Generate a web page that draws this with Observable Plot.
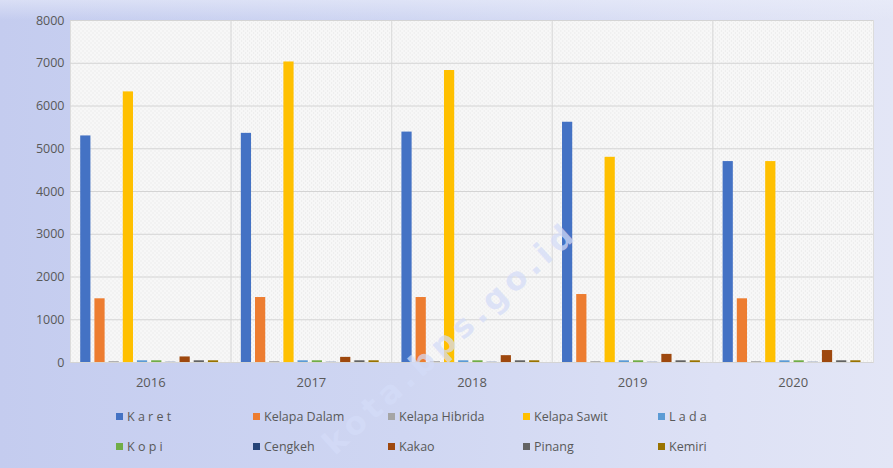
<!DOCTYPE html>
<html>
<head>
<meta charset="utf-8">
<script src="https://cdn.jsdelivr.net/npm/d3@7"></script>
<script src="https://cdn.jsdelivr.net/npm/@observablehq/plot@0.6"></script>
<style>
  html, body { margin: 0; padding: 0; }
  body {
    width: 893px; height: 468px; overflow: hidden; position: relative;
    background:
      linear-gradient(to bottom, rgba(235,238,250,0.55) 0px, rgba(235,238,250,0) 20px),
      linear-gradient(to right, #c4ccef 0%, #cfd6f2 45%, #dde1f5 80%, #e3e6f6 100%);
    font-family: "Open Sans", "DejaVu Sans", sans-serif;
  }
  #chart { position: absolute; left: 0; top: 0; }
  .legend { position: absolute; left: 0; top: 0; width: 893px; height: 468px; pointer-events: none; }
  .item { position: absolute; font-size: 12.5px; color: #595959; white-space: nowrap; line-height: 14px; }
  .item .sw { display: inline-block; width: 7px; height: 7px; margin-right: 4px; vertical-align: 1px; }
  .wm { position: absolute; left: 338px; top: 428px; font: bold 32px "DejaVu Sans", sans-serif; line-height: 32px; letter-spacing: 5px;
        color: rgba(212, 220, 248, 0.72);
        transform: rotate(-42deg); transform-origin: left bottom; white-space: nowrap; }
</style>
</head>
<body>
<div id="chart"></div>
<div class="wm">kota.bps.go.id</div>
<div class="legend" id="legend"></div>
<script>
const years = ["2016", "2017", "2018", "2019", "2020"];
const seriesNames = ["K a r e t", "Kelapa Dalam", "Kelapa Hibrida", "Kelapa Sawit", "L a d a",
                     "K o p i", "Cengkeh", "Kakao", "Pinang", "Kemiri"];
const colors = ["#4472C4", "#ED7D31", "#A5A5A5", "#FFC000", "#5B9BD5",
                "#70AD47", "#264478", "#9E480E", "#636363", "#997300"];
const karet         = [5300, 5360, 5390, 5620, 4700];
const kelapaDalam   = [1490, 1520, 1520, 1590, 1490];
const kelapaHibrida = [20, 20, 20, 20, 20];
const kelapaSawit   = [6330, 7030, 6830, 4800, 4700];
const lada          = [40, 40, 40, 40, 40];
const kopi          = [40, 40, 40, 40, 40];
const cengkeh       = [5, 5, 5, 5, 5];
const kakao         = [130, 120, 160, 190, 280];
const pinang        = [40, 40, 40, 40, 40];
const kemiri        = [40, 40, 40, 40, 40];
const yTicks = [0, 1000, 2000, 3000, 4000, 5000, 6000, 7000, 8000];

const allSeries = [karet, kelapaDalam, kelapaHibrida, kelapaSawit, lada, kopi, cengkeh, kakao, pinang, kemiri];
const data = [];
years.forEach((yr, i) => {
  seriesNames.forEach((s, j) => data.push({year: yr, series: s, value: allSeries[j][i]}));
});

const plot = Plot.plot({
  width: 893,
  height: 400,
  marginLeft: 70,
  marginRight: 20,
  marginTop: 20,
  marginBottom: 38,
  style: {background: "transparent", fontFamily: "'Open Sans', 'DejaVu Sans', sans-serif", color: "#595959"},
  fx: {domain: years, padding: 0, round: false, label: null},
  x: {domain: seriesNames, paddingInner: 0.28, paddingOuter: 0.8, align: 0.45, round: false, axis: null},
  y: {domain: [0, 8000], label: null},
  color: {domain: seriesNames, range: colors},
  marks: [
    Plot.frame({fill: "url(#hatch)", stroke: "#dcdcdc", strokeWidth: 1}),
    Plot.gridY(yTicks, {stroke: "#d4d4d4", strokeOpacity: 1, strokeWidth: 1}),
    Plot.axisY(yTicks, {tickSize: 0, tickPadding: 6, fontSize: 12.5, fill: "#595959", label: null, tickFormat: d => String(d)}),
    Plot.axisFx({anchor: "bottom", tickSize: 0, tickPadding: 15, fontSize: 13, fill: "#595959", label: null}),
    Plot.barY(data, {fx: "year", x: "series", y: "value", fill: "series"})
  ]
});

const ns = "http://www.w3.org/2000/svg";
const defs = document.createElementNS(ns, "defs");
defs.innerHTML = `<pattern id="hatch" width="4" height="4" patternUnits="userSpaceOnUse">
  <rect width="4" height="4" fill="#f7f7f7"/>
  <rect x="0" y="0" width="1" height="1" fill="#e4e4e4"/>
  <rect x="2" y="2" width="1" height="1" fill="#e4e4e4"/>
</pattern>`;
plot.insertBefore(defs, plot.firstChild);
document.getElementById("chart").appendChild(plot);

// legend
const legend = document.getElementById("legend");
const cols = [116, 253, 388, 523, 658];
const rows = [410, 440];
seriesNames.forEach((s, i) => {
  const el = document.createElement("div");
  el.className = "item";
  el.style.left = cols[i % 5] + "px";
  el.style.top = rows[Math.floor(i / 5)] + "px";
  el.innerHTML = `<span class="sw" style="background:${colors[i]}"></span>${s}`;
  legend.appendChild(el);
});
</script>
</body>
</html>
